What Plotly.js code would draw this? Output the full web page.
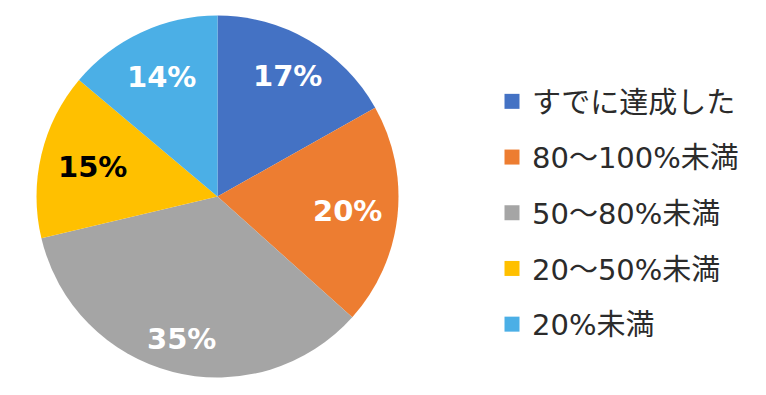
<!DOCTYPE html>
<html>
<head>
<meta charset="utf-8">
<script src="https://cdn.plot.ly/plotly-3.0.1.min.js"></script>
<style>
  html, body { margin: 0; padding: 0; background: #ffffff; }
  #chart { width: 766px; height: 395px; }
</style>
</head>
<body>
<div id="chart"></div>
<script>
// 目標の達成状況（%）
const categories = ['すでに達成した', '80～100%未満', '50～80%未満', '20～50%未満', '20%未満'];
const shares = [17, 20, 35, 15, 14];
const sliceColors = ['#4472C4', '#ED7D31', '#A5A5A5', '#FFC000', '#4BAFE6'];
const labelColors = ['#ffffff', '#ffffff', '#ffffff', '#000000', '#ffffff'];
// distance of each percentage label from the centre, as a fraction of the radius
const labelRadius = [0.77, 0.72, 0.81, 0.71, 0.73];

const W = 766, H = 395;
// pie centre and radius in pixels
const cx = 217.5, cy = 196.5, R = 181;

const pie = {
  type: 'pie',
  labels: categories,
  values: shares,
  textinfo: 'none',
  sort: false,
  direction: 'clockwise',
  rotation: 0,
  marker: { colors: sliceColors, line: { width: 0 } },
  domain: {
    x: [(cx - R) / W, (cx + R) / W],
    y: [(H - cy - R) / H, (H - cy + R) / H]
  },
  showlegend: false,
  hoverinfo: 'label+percent'
};

// percentage labels placed on each slice's bisector (clockwise from 12 o'clock)
const total = shares.reduce((a, b) => a + b, 0);
let cum = 0;
const annotations = shares.map((v, i) => {
  const mid = (cum + v / 2) / total * 2 * Math.PI;
  cum += v;
  const r = labelRadius[i] * R;
  const px = cx + r * Math.sin(mid);
  const py = cy - r * Math.cos(mid);
  return {
    xref: 'paper', yref: 'paper',
    x: px / W, y: 1 - py / H,
    xanchor: 'center', yanchor: 'middle',
    text: v + '%',
    showarrow: false,
    font: { family: 'DejaVu Sans', size: 29, color: labelColors[i], weight: 'bold' }
  };
});

// legend entries, one per category
const legendTraces = categories.map((name, i) => ({
  type: 'scatter',
  mode: 'markers',
  x: [null],
  y: [null],
  name: name,
  legendgroup: 'g' + i,
  marker: { symbol: 'square', size: 15, color: sliceColors[i] },
  hoverinfo: 'skip'
}));

const layout = {
  width: W,
  height: H,
  margin: { l: 0, r: 0, t: 0, b: 0 },
  paper_bgcolor: '#ffffff',
  plot_bgcolor: '#ffffff',
  xaxis: { visible: false },
  yaxis: { visible: false },
  showlegend: true,
  annotations: annotations,
  legend: {
    x: 492 / W,
    xanchor: 'left',
    y: 1 - 76 / H,
    yanchor: 'top',
    traceorder: 'grouped',
    tracegroupgap: 15,
    font: { family: 'DejaVu Sans, Noto Sans CJK JP', size: 29, color: '#2b2b2b' },
    bgcolor: 'rgba(0,0,0,0)'
  }
};

Plotly.newPlot('chart', [pie].concat(legendTraces), layout, { displayModeBar: false, staticPlot: true });
</script>
</body>
</html>
